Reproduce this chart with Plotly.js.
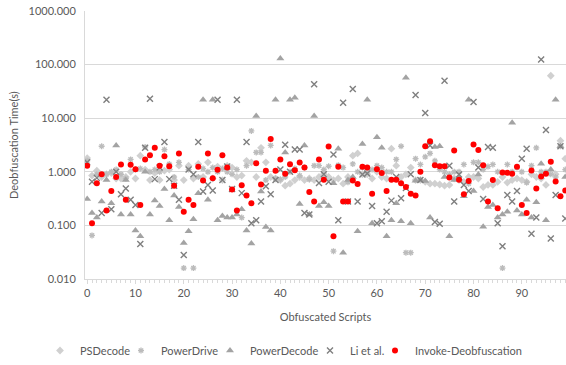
<!DOCTYPE html>
<html><head><meta charset="utf-8">
<script src="https://cdn.plot.ly/plotly-3.0.1.min.js"></script>
<style>html,body{margin:0;padding:0;background:#fff}#chart{width:566px;height:365px}</style>
</head><body><div id="chart"></div>
<script>
const scripts = [0,1,2,3,4,5,6,7,8,9,10,11,12,13,14,15,16,17,18,19,20,21,22,23,24,25,26,27,28,29,30,31,32,33,34,35,36,37,38,39,40,41,42,43,44,45,46,47,48,49,50,51,52,53,54,55,56,57,58,59,60,61,62,63,64,65,66,67,68,69,70,71,72,73,74,75,76,77,78,79,80,81,82,83,84,85,86,87,88,89,90,91,92,93,94,95,96,97,98,99];

const psdecode = [1.8,0.85,1.05,0.8,0.9,0.95,0.75,0.75,0.8,1.0,
 0.75,2.0,1.1,0.7,0.95,0.7,1.05,1.1,0.7,1.3,
 0.7,1.3,0.75,1.4,0.8,1.5,0.75,1.25,0.7,1.3,
 1.2,0.8,0.85,1.6,1.5,0.8,2.8,1.5,0.8,0.75,
 0.7,0.55,0.6,0.7,0.8,0.7,0.75,0.7,0.8,0.9,
 0.8,0.7,0.75,0.6,0.8,2.0,2.2,0.9,0.9,0.75,
 1.0,0.8,0.75,2.7,1.3,0.8,0.9,1.2,0.7,0.7,
 0.65,0.6,0.6,0.58,0.55,0.57,0.75,0.7,0.65,0.8,
 0.8,0.75,0.52,0.57,0.57,0.65,0.8,0.63,0.7,0.75,
 0.7,0.65,0.9,0.8,0.75,0.57,62,0.9,3.8,1.76];

const powerdrive = [1.6,0.065,0.9,3.0,0.9,1.0,1.1,0.9,0.75,1.7,
 1.1,1.15,2.9,1.0,1.1,1.0,2.6,1.4,0.8,1.5,
 0.016,1.1,0.016,0.8,1.15,1.0,1.2,1.0,1.15,1.0,
 0.9,1.1,0.14,1.3,5.8,2.3,2.3,0.7,3.1,0.75,
 0.72,0.8,1.0,1.15,0.85,1.2,0.72,1.3,1.3,1.1,
 1.27,0.033,1.33,1.2,0.64,1.4,1.0,1.2,1.0,1.1,
 1.3,1.2,1.0,1.0,1.7,3.0,0.031,0.031,1.76,1.37,
 1.9,2.2,1.6,1.1,1.0,0.9,1.0,1.0,1.37,0.6,
 1.5,1.5,1.1,1.25,1.37,1.0,0.016,1.37,1.0,1.2,
 1.0,0.63,1.3,2.8,1.0,1.0,0.9,0.8,3.0,1.1];

const powerdecode = [0.31,0.17,0.14,0.28,0.7,0.26,3.1,0.16,0.7,0.16,
 0.08,0.063,1.0,0.16,0.29,0.23,0.48,0.125,0.36,0.22,
 0.047,0.078,0.13,0.4,22,0.3,22,0.125,0.15,0.14,
 0.14,0.16,0.2,0.08,0.046,11,0.43,0.093,0.08,22,
 130,2.3,22,24,0.25,3.1,0.16,11,0.23,0.27,
 0.23,0.61,2.7,0.031,0.7,0.8,0.078,3.3,22,0.11,
 4.4,2.8,0.063,0.125,0.26,0.12,57,0.11,0.68,0.7,
 0.67,0.14,2.9,3.0,0.8,0.063,0.7,0.75,0.35,22,
 0.44,0.89,0.094,0.22,0.24,0.14,0.16,0.18,8.2,0.19,
 0.16,0.3,0.14,0.27,1.42,0.125,1.1,22,3.0,0.8];

const liEtAl = [1.5,0.65,0.77,0.17,22,0.2,1.0,0.38,0.49,0.3,
 0.24,0.045,2.8,23,0.73,1.2,3.6,0.73,0.55,0.3,
 0.028,1.1,0.9,3.6,0.43,0.57,0.45,22,0.7,1.25,
 0.48,22,0.4,3.6,0.11,0.125,0.28,0.54,0.38,0.7,
 1.1,3.2,1.0,2.6,2.6,0.17,0.16,43,0.62,0.9,
 0.65,2.1,0.125,19.5,0.28,35,0.28,0.89,0.93,0.23,
 0.11,0.12,0.18,0.29,0.8,0.32,0.5,0.9,27,0.7,
 12.5,3.1,0.116,0.107,50,1.3,0.28,0.89,0.57,0.44,
 20,1.2,0.31,2.9,2.8,0.11,0.041,0.37,0.28,0.44,
 1.76,2.7,0.07,0.14,124,6.0,0.057,0.37,3.0,0.134];

const invoke = [1.30,0.11,0.61,0.90,0.19,0.44,0.80,1.37,0.30,1.35,
 1.12,0.24,1.69,2.04,2.82,1.30,1.95,1.27,0.55,2.19,
 0.18,0.30,0.24,1.24,0.69,2.19,0.76,1.09,2.04,1.20,
 0.47,0.19,0.56,0.36,0.26,1.45,0.58,1.05,4.08,1.05,
 1.69,0.92,1.39,1.07,1.49,1.20,0.42,0.28,1.69,0.71,
 2.98,0.063,1.24,0.28,0.28,0.69,0.59,1.24,1.20,0.39,
 1.12,0.95,0.44,0.71,0.71,0.61,0.52,0.39,0.36,1.0,
 3.0,3.7,1.33,1.27,1.27,0.78,2.5,0.71,0.38,0.67,
 3.24,2.56,1.33,0.28,0.70,0.21,0.97,0.96,0.92,1.24,
 0.24,0.17,1.06,0.49,0.82,0.92,1.54,0.66,0.35,0.45];

const yTickVals = [0.01,0.1,1,10,100,1000];
const yTickText = ['0.010','0.100','1.000','10.000','100.000','1000.000'];
const xTickVals = [0,10,20,30,40,50,60,70,80,90];

const FONT = 'Lato, "Liberation Sans", sans-serif';
const TXT = '#595959';

function tr(name, y, symbol, color, size, lw, legw){
  const open = symbol.indexOf('open') >= 0;
  return {
    type:'scatter', mode:'markers', name:name, x:scripts, y:y, legendwidth:legw,
    marker: open ? {symbol:symbol, size:size, color:color, line:{color:color, width:lw}}
                 : {symbol:symbol, size:size, color:color, line:{width:0}},
    hoverinfo:'x+y'
  };
}

const data = [
  tr('PSDecode', psdecode, 'diamond', '#d0d0d0', 6, 0, 36),
  tr('PowerDrive', powerdrive, 'asterisk-open', '#bcbcbc', 5, 1.3, 44),
  tr('PowerDecode', powerdecode, 'triangle-up', '#a3a3a3', 7, 0, 55),
  tr('Li et al.', liEtAl, 'x-thin-open', '#7f7f7f', 6, 1.4, 20),
  tr('Invoke-Deobfuscation', invoke, 'circle', '#ff0000', 6, 0, 115)
];

const layout = {
  width:566, height:365,
  margin:{l:85, r:0, t:11, b:83},
  paper_bgcolor:'#fff', plot_bgcolor:'#fff',
  font:{family:FONT, size:11, color:TXT},
  showlegend:true,
  legend:{orientation:'h', x:(40-85)/481, xanchor:'left', y:-0.268, yanchor:'middle',
          font:{family:FONT, size:11, color:TXT}, itemwidth:30, tracegroupgap:0},
  xaxis:{
    range:[-0.45, 99.15], tickvals:xTickVals, ticktext:xTickVals.map(String),
    showgrid:false, zeroline:false, showline:true, linecolor:'#d9d9d9', linewidth:1,
    ticks:'outside', ticklen:4, tickcolor:'#d9d9d9',
    minor:{dtick:1, ticks:'outside', ticklen:3, tickcolor:'#d9d9d9'},
    tickfont:{family:FONT, size:11, color:TXT},
    title:{text:'Obfuscated Scripts', font:{family:FONT, size:11, color:TXT}, standoff:15}
  },
  yaxis:{
    type:'log', range:[-2, 3], tickvals:yTickVals, ticktext:yTickText,
    showgrid:true, gridcolor:'#d9d9d9', gridwidth:1, zeroline:false,
    showline:true, linecolor:'#d9d9d9', ticks:'', ticklabelstandoff:6,
    tickfont:{family:FONT, size:11, color:TXT}
  },
  annotations:[{
    text:'Deobfuscation Time(s)', textangle:-90, xref:'paper', yref:'paper',
    x:(13-85)/481, y:0.5, xanchor:'center', yanchor:'middle', showarrow:false,
    font:{family:FONT, size:11, color:TXT}
  }]
};

Plotly.newPlot('chart', data, layout, {displayModeBar:false, staticPlot:true});
</script></body></html>
